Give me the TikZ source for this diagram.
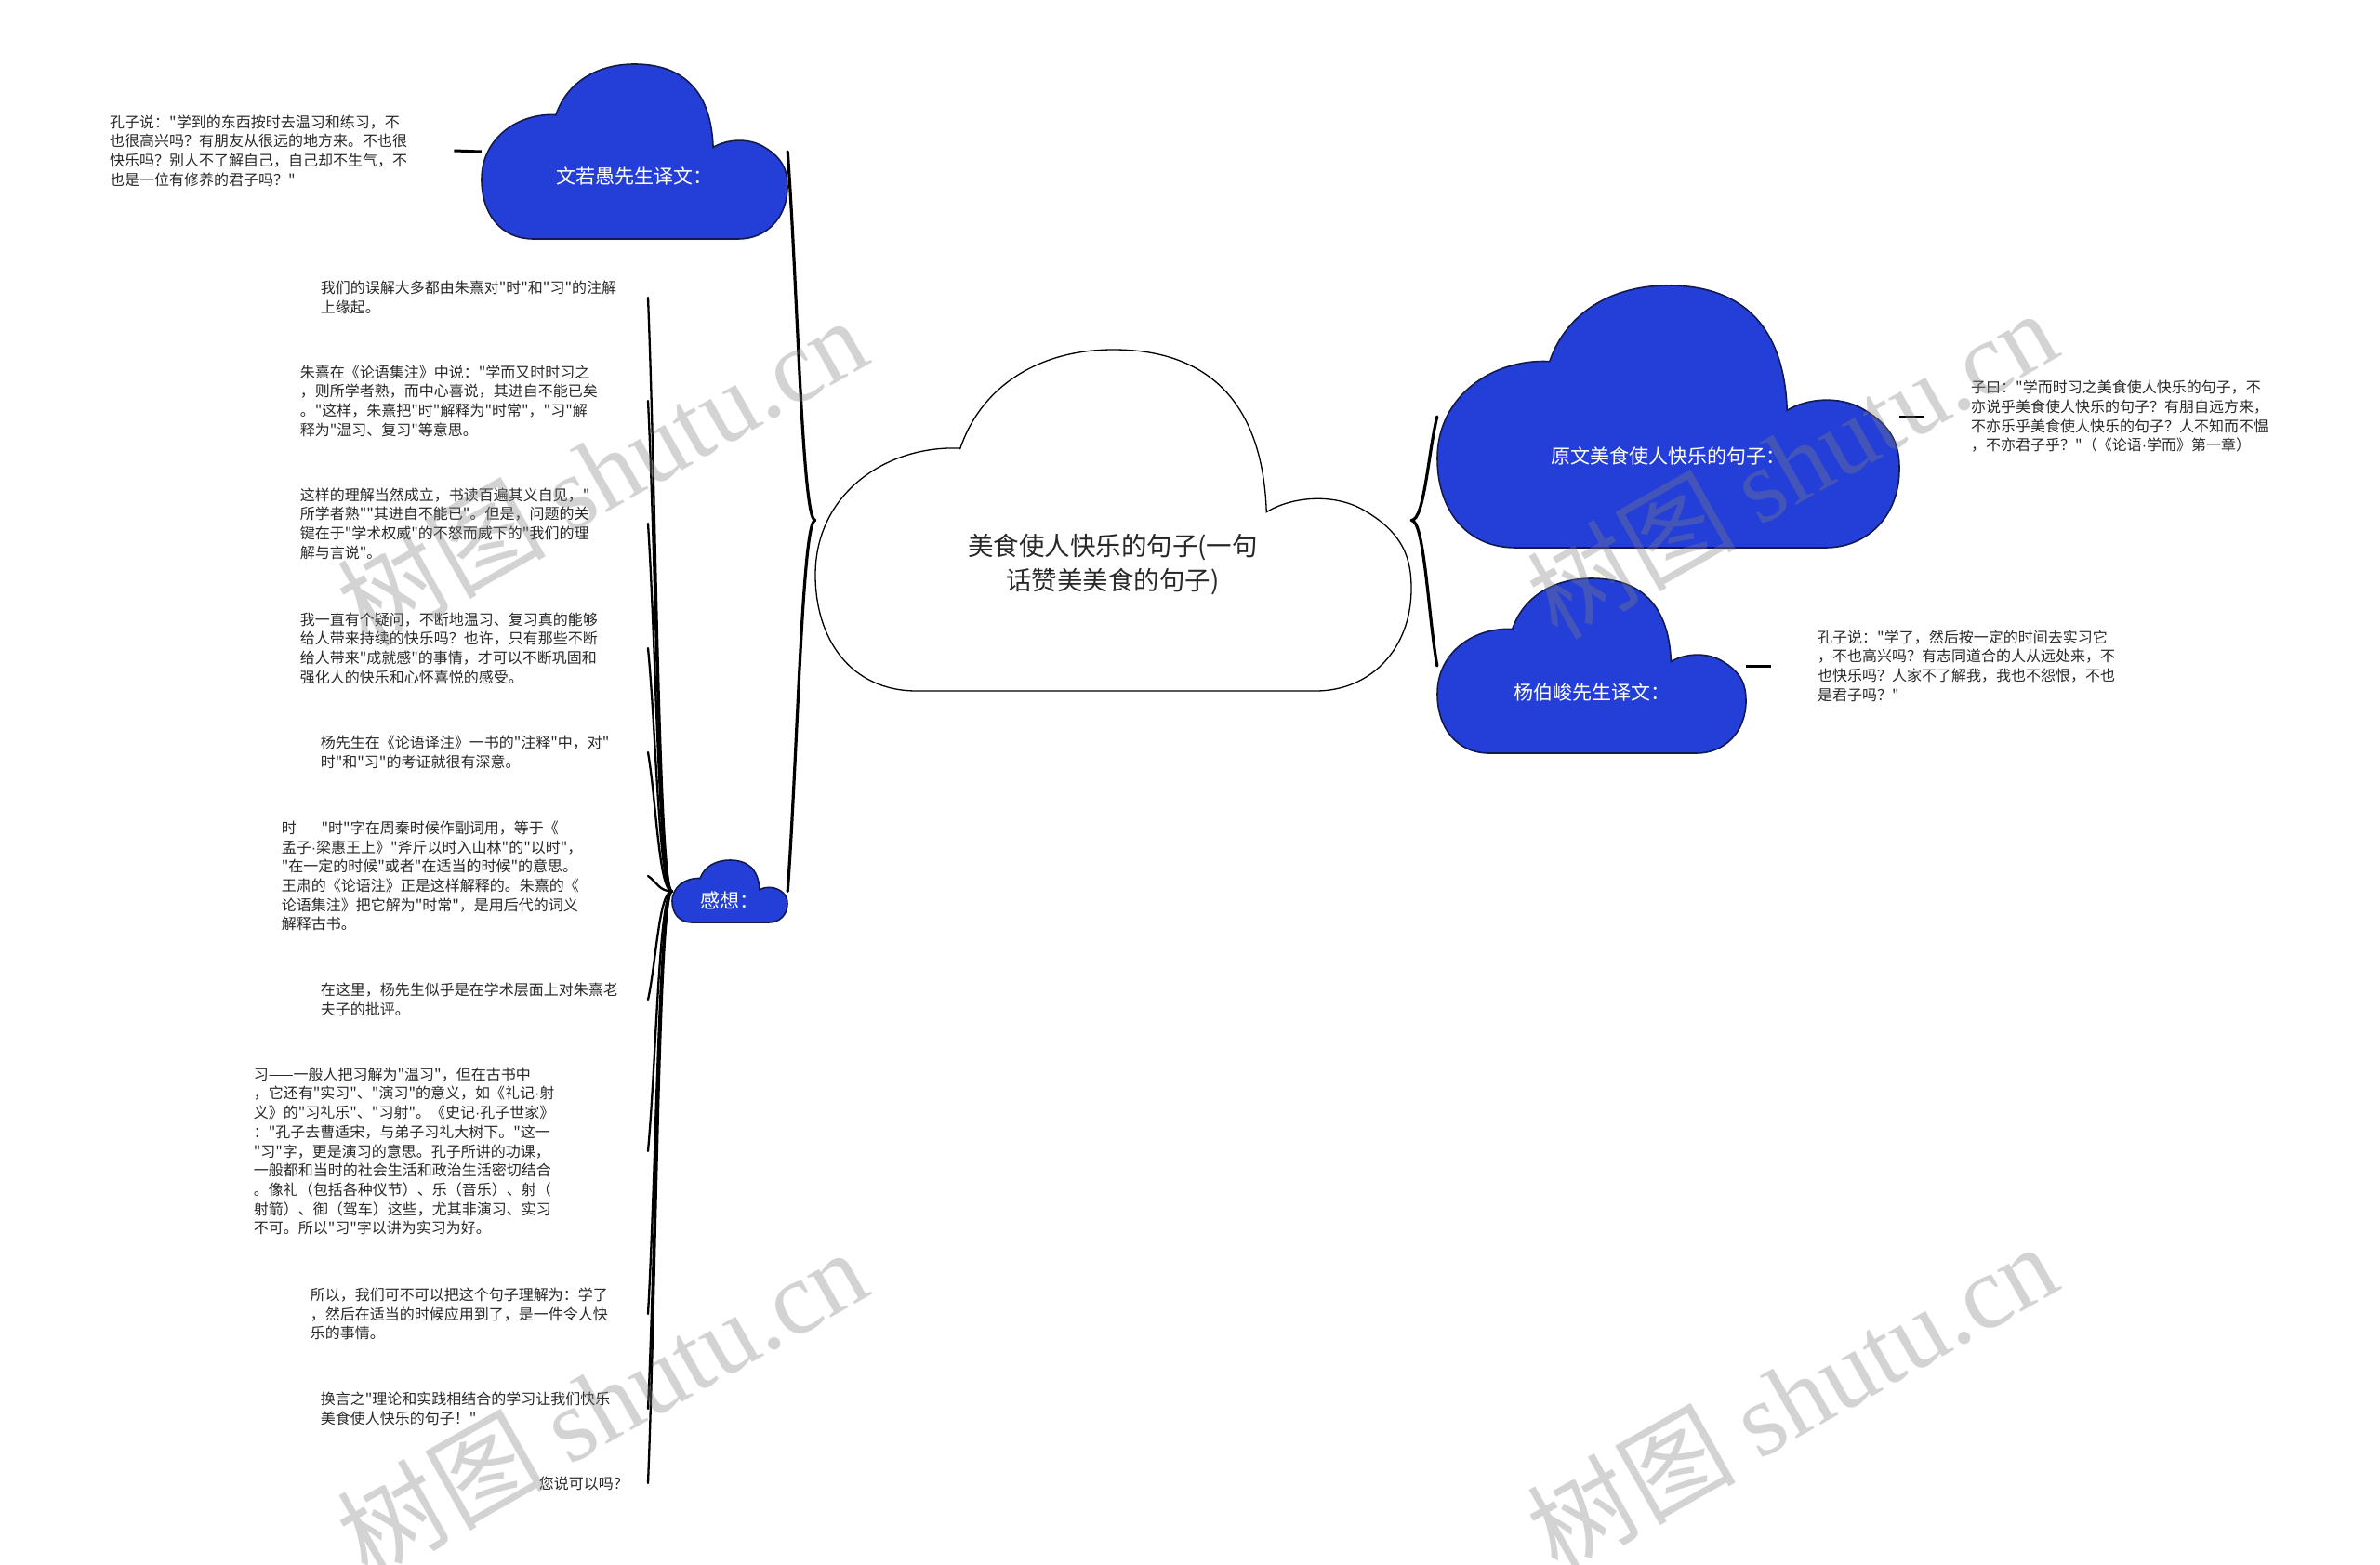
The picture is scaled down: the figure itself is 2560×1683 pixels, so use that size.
\documentclass[tikz,border=0pt]{standalone}
\usepackage{fontspec}
\setmainfont{Noto Sans CJK SC}[Ligatures=TeXOff]
\newfontfamily\wmserif{Liberation Serif}
\newfontfamily\dotfont{Liberation Sans}
\newcommand\md{{\dotfont ·}}
\usetikzlibrary{calc}
\definecolor{cloudblue}{RGB}{36,62,216}
\definecolor{cloudedge}{RGB}{18,26,80}
\definecolor{txt}{RGB}{40,40,40}
\newcommand\cloudat[5]{%
  \begin{scope}[shift={(#1,#2)},xscale=#3,yscale=#4]
    \path[#5] (0.243,0.29) .. controls (0.28,0.10) and (0.38,0.0) .. (0.50,0.0)
      .. controls (0.64,0.0) and (0.75,0.12) .. (0.757,0.476)
      .. controls (0.80,0.43) and (0.87,0.42) .. (0.92,0.47)
      .. controls (0.99,0.54) and (1.0,0.62) .. (1.0,0.70)
      .. controls (1.0,0.88) and (0.93,1.0) .. (0.84,1.0)
      -- (0.17,1.0)
      .. controls (0.06,1.0) and (0.0,0.85) .. (0.0,0.66)
      .. controls (0.0,0.42) and (0.12,0.28) .. cycle;
  \end{scope}}
\tikzset{
  bluecloud/.style={fill=cloudblue,draw=cloudedge,line width=1.6pt},
  whitecloud/.style={fill=white,draw=black,line width=1.3pt},
  cloudbox/.style={rectangle,inner sep=0pt,draw=none},
  bluelabel/.style={text=white,font=\fontsize{21}{26}\selectfont,inner sep=2pt},
  mainlabel/.style={text=txt,font=\fontsize{27.5}{37}\selectfont,align=center,inner sep=2pt},
  leaf/.style={text=txt,font=\fontsize{16}{20.7}\selectfont,align=left,inner ysep=3pt},
  leftleaf/.style={leaf,anchor=east,inner xsep=4pt},
  brace/.style={line width=3.2pt,line cap=round},
  twig/.style={line width=2.3pt,line cap=round},
  dashline/.style={line width=3pt},
  wm/.style={text=gray,text opacity=0.35,font=\fontsize{112}{112}\selectfont,rotate=29.5,inner sep=0pt}
}
\begin{document}
\begin{tikzpicture}[x=1pt,y=-1pt]
\useasboundingbox (0,0) rectangle (2560,1683);
% clouds
\cloudat{877}{376}{641}{367}{whitecloud}
\cloudat{518}{69}{329}{188}{bluecloud}
\cloudat{1546}{307}{497}{282}{bluecloud}
\cloudat{1546}{622}{332}{188}{bluecloud}
\cloudat{723}{925}{124}{67}{bluecloud}
\node[cloudbox,minimum width=641pt,minimum height=367pt] (c0) at (1197.5,559.5) {};
\node[cloudbox,minimum width=329pt,minimum height=188pt] (c1) at (682.5,163) {};
\node[cloudbox,minimum width=497pt,minimum height=282pt] (c2) at (1794.5,448) {};
\node[cloudbox,minimum width=332pt,minimum height=188pt] (c3) at (1712,716) {};
\node[cloudbox,minimum width=124pt,minimum height=67pt] (c4) at (785,958.5) {};
% labels
\node[mainlabel] (c0t) at (1197,607) {美食使人快乐的句子(一句\\话赞美美食的句子)};
\node[bluelabel] (c1t) at (682,189) {文若愚先生译文：};
\node[bluelabel] (c2t) at (1794,490) {原文美食使人快乐的句子：};
\node[bluelabel] (c3t) at (1712,744) {杨伯峻先生译文：};
\node[bluelabel] (c4t) at (785,968) {感想：};
% leaves of the first three
\node[leaf,anchor=west,inner xsep=50pt,text width=320pt] (t1) at (68,162) {孔子说："学到的东西按时去温习和练习，不\\也很高兴吗？有朋友从很远的地方来。不也很\\快乐吗？别人不了解自己，自己却不生气，不\\也是一位有修养的君子吗？"};
\node[leaf,anchor=west,inner xsep=50pt,text width=330pt] (t2) at (2070,448) {子曰："学而时习之美食使人快乐的句子，不\\亦说乎美食使人快乐的句子？有朋自远方来，\\不亦乐乎美食使人快乐的句子？人不知而不愠\\，不亦君子乎？"（《论语\md 学而》第一章）};
\node[leaf,anchor=west,inner xsep=50pt,text width=330pt] (t3) at (1905,716) {孔子说："学了，然后按一定的时间去实习它\\，不也高兴吗？有志同道合的人从远处来，不\\也快乐吗？人家不了解我，我也不怨恨，不也\\是君子吗？"};
% leaves of 感想
\node[leftleaf,text width=348pt] (l1) at (697,320) {我们的误解大多都由朱熹对"时"和"习"的注解\\上缘起。};
\node[leftleaf,text width=370pt] (l2) at (697,431) {朱熹在《论语集注》中说："学而又时时习之\\，则所学者熟，而中心喜说，其进自不能已矣\\。"这样，朱熹把"时"解释为"时常"，"习"解\\释为"温习、复习"等意思。};
\node[leftleaf,text width=370pt] (l3) at (697,563) {这样的理解当然成立，书读百遍其义自见，"\\所学者熟""其进自不能已"。但是，问题的关\\键在于"学术权威"的不怒而威下的"我们的理\\解与言说"。};
\node[leftleaf,text width=370pt] (l4) at (697,697) {我一直有个疑问，不断地温习、复习真的能够\\给人带来持续的快乐吗？也许，只有那些不断\\给人带来"成就感"的事情，才可以不断巩固和\\强化人的快乐和心怀喜悦的感受。};
\node[leftleaf,text width=348pt] (l5) at (697,809) {杨先生在《论语译注》一书的"注释"中，对"\\时"和"习"的考证就很有深意。};
\node[leftleaf,text width=390pt] (l6) at (697,942) {时——"时"字在周秦时候作副词用，等于《\\孟子\md 梁惠王上》"斧斤以时入山林"的"以时"，\\"在一定的时候"或者"在适当的时候"的意思。\\王肃的《论语注》正是这样解释的。朱熹的《\\论语集注》把它解为"时常"，是用后代的词义\\解释古书。};
\node[leftleaf,text width=348pt] (l7) at (697,1075) {在这里，杨先生似乎是在学术层面上对朱熹老\\夫子的批评。};
\node[leftleaf,text width=420pt] (l8) at (697,1238) {习——一般人把习解为"温习"，但在古书中\\，它还有"实习"、"演习"的意义，如《礼记\md 射\\义》的"习礼乐"、"习射"。《史记\md 孔子世家》\\："孔子去曹适宋，与弟子习礼大树下。"这一\\"习"字，更是演习的意思。孔子所讲的功课，\\一般都和当时的社会生活和政治生活密切结合\\。像礼（包括各种仪节）、乐（音乐）、射（\\射箭）、御（驾车）这些，尤其非演习、实习\\不可。所以"习"字以讲为实习为好。};
\node[leftleaf,text width=359pt] (l9) at (697,1413) {所以，我们可不可以把这个句子理解为：学了\\，然后在适当的时候应用到了，是一件令人快\\乐的事情。};
\node[leftleaf,text width=348pt] (l10) at (697,1515) {换言之"理论和实践相结合的学习让我们快乐\\美食使人快乐的句子！"};
\node[leftleaf,text width=113pt] (l11) at (697,1595) {您说可以吗？};
% main braces
\draw[brace] (c0.west) .. controls +(-14,0) and ($(c1.east)!0.35!(c0.west)$) .. (c1.east);
\draw[brace] (c0.west) .. controls +(-14,0) and ($(c4.east)!0.35!(c0.west)$) .. (c4.east);
\draw[brace] (c0.east) .. controls +(14,0) and ($(c2.west)!0.35!(c0.east)$) .. (c2.west);
\draw[brace] (c0.east) .. controls +(14,0) and ($(c3.west)!0.35!(c0.east)$) .. (c3.west);
% short dashes
\draw[dashline] (t1.east) -- (c1.west);
\draw[dashline] (c2.east) -- (t2.west);
\draw[dashline] (c3.east) -- (t3.west);
% twigs of 感想
\foreach \l in {l1,l2,l3,l4,l5,l6,l7,l8,l9,l10,l11}{
  \draw[twig] (c4.west) .. controls +(-14,0) and ($(\l.east)!0.35!(c4.west)$) .. (\l.east);
}
% watermarks
\node[wm] (w1) at (647,506) {树图 {\wmserif shutu.cn}};
\node[wm] (w2) at (1927,498) {树图 {\wmserif shutu.cn}};
\node[wm] (w3) at (647,1508) {树图 {\wmserif shutu.cn}};
\node[wm] (w4) at (1927,1502) {树图 {\wmserif shutu.cn}};
\end{tikzpicture}
\end{document}
